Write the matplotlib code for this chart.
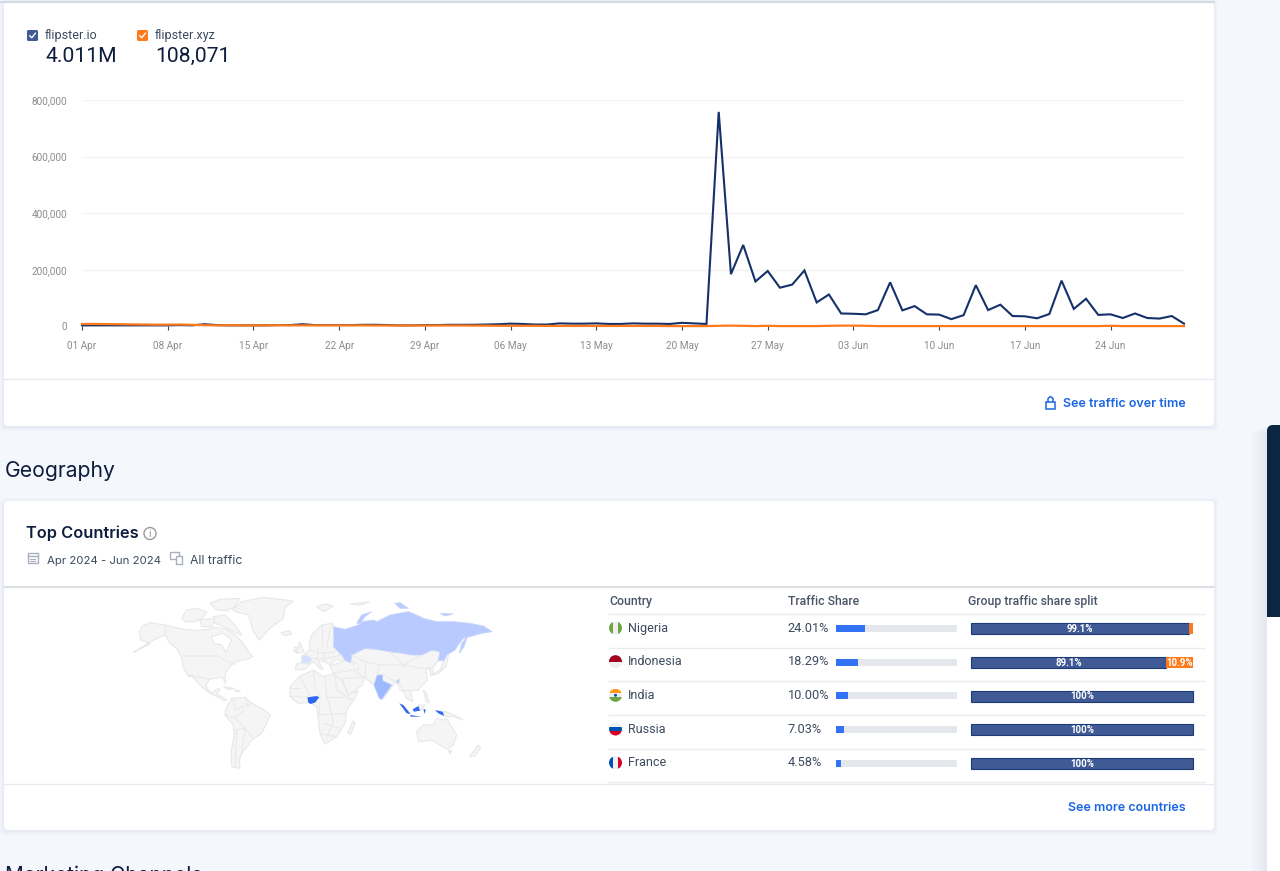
import pandas as pd
import matplotlib
matplotlib.use("Agg")
import matplotlib.pyplot as plt
from matplotlib.patches import Circle, FancyBboxPatch, Polygon, Rectangle

plt.rcParams['font.family'] = ['Roboto', 'DejaVu Sans']

# Traffic over time, daily visits from 01 Apr to 30 Jun
flipster_io = [4000, 4000, 4000, 4000, 4000, 4000, 4000, 4000, 5000, 4000,
               8000, 5000, 4000, 4000, 4000, 4000, 5000, 5000, 8000, 5000,
               5000, 5000, 5000, 6000, 6000, 5000, 4000, 4000, 5000, 5000,
               6000, 6000, 6000, 7000, 8000, 10000, 9000, 7000, 7000, 11000,
               10000, 10000, 11000, 9000, 9000, 11000, 10000, 10000, 9000, 13000,
               11000, 9000, 758000, 185000, 288000, 159000, 196000, 137000, 148000, 198000,
               85000, 113000, 46000, 45000, 43000, 58000, 156000, 57000, 72000, 43000,
               42000, 26000, 40000, 146000, 58000, 77000, 37000, 36000, 29000, 44000,
               162000, 62000, 98000, 41000, 43000, 30000, 46000, 30000, 28000, 37000,
               10000]
flipster_xyz = [9000, 9000, 8500, 8000, 7500, 7000, 6500, 6500, 7000, 6000,
                4500, 4000, 4500, 4000, 4000, 4000, 4500, 4000, 4000, 4000,
                4000, 4000, 4000, 4000, 3500, 3500, 3500, 3500, 3500, 3500,
                3500, 3500, 3000, 3000, 2500, 2500, 2500, 2500, 2000, 2000,
                2000, 2000, 2000, 2000, 2000, 2000, 2000, 2000, 1500, 1500,
                1500, 1500, 2500, 3000, 2500, 1500, 2500, 1500, 1500, 1500,
                1500, 2500, 3000, 3000, 2500, 1500, 1500, 1500, 1500, 1500,
                1500, 1500, 1500, 1500, 1500, 1500, 1500, 1500, 1500, 1500,
                1500, 1500, 1500, 1500, 2500, 1500, 1500, 1500, 1500, 1500,
                1500]
y_ticks = [0, 200000, 400000, 600000, 800000]

countries = ["Nigeria", "Indonesia", "India", "Russia", "France"]
traffic_share = [24.01, 18.29, 10.00, 7.03, 4.58]
split_io = [99.1, 89.1, 100, 100, 100]
split_xyz = [0.9, 10.9, 0, 0, 0]

# Map outlines, in crop coordinates
# Americas and Greenland
land_west = [
    [(40,187),(70,172),(92,160),(62,150),(58,125),(68,108),(90,98),(135,105),(190,118),(230,122),(262,118),(285,112),(320,118),(345,135),(370,160),(385,185),(398,200),(380,208),(355,212),(335,225),(318,245),(315,262),(318,282),(308,262),(285,265),(268,268),(258,285),(262,298),(275,308),(290,298),(300,296),(290,312),(305,320),(320,330),(312,332),(295,322),(270,310),(240,285),(215,258),(205,260),(190,232),(185,205),(170,175),(150,160),(135,135),(100,150)],
    [(185,85),(200,60),(230,55),(260,65),(250,82),(225,95),(195,95)],
    [(270,40),(300,28),(360,25),(345,50),(320,62),(290,60)],
    [(280,80),(315,75),(345,105),(365,135),(340,125),(310,110),(285,100)],
    [(240,90),(285,85),(275,110),(245,110)],
    [(338,58),(365,35),(430,22),(520,33),(495,52),(490,85),(450,115),(418,150),(400,125),(392,95),(385,75),(345,65)],
    [(482,128),(510,122),(515,132),(495,137)],
    [(310,290),(345,296),(325,298)],
    [(345,300),(362,302),(350,306)],
    [(318,355),(335,325),(375,322),(395,340),(425,355),(452,375),(440,400),(425,430),(395,450),(385,465),(365,490),(358,510),(360,535),(335,530),(333,490),(343,430),(340,405),(315,375)],
]
bays_west = [
    [(275,140),(310,130),(335,150),(325,170),(318,188),(305,165),(280,160)],
]
borders_west = [
    [(135,105),(138,135)], [(185,198),(295,198),(320,215),(345,222)], [(205,255),(240,262),(268,268)],
    [(340,325),(345,360),(380,345),(395,340)], [(375,322),(385,350)], [(345,385),(372,360)], [(345,385),(375,415),(395,440)],
    [(345,420),(375,415)], [(350,420),(345,530)], [(375,415),(365,490)], [(315,375),(345,385)],
]
# Africa, Eurasia and Oceania (same scale, shifted right)
east_offset = 510
land_east = [
    [(0,290),(30,258),(70,240),(100,260),(135,250),(160,258),(165,275),(180,310),(205,302),(195,325),(170,360),(165,400),(140,440),(105,462),(90,430),(85,385),(80,350),(60,338),(25,340),(0,320)],
    [(172,430),(190,392),(195,400),(182,432)],
    [(15,240),(20,222),(35,218),(35,198),(60,180),(58,160),(65,135),(95,105),(125,100),(135,115),(132,170),(155,195),(165,210),(135,210),(120,225),(105,215),(85,212),(100,240),(90,235),(70,215),(60,222),(45,238)],
    [(28,155),(35,170),(42,185),(18,190),(25,175)],
    [(12,172),(22,172),(18,185),(12,185)],
    [(120,228),(165,212),(185,195),(225,175),(260,178),(300,185),(340,190),(395,195),(425,180),(450,185),(445,212),(428,232),(408,240),(412,270),(385,300),(362,302),(368,335),(350,325),(335,295),(320,270),(300,298),(275,330),(252,285),(222,262),(218,285),(175,315),(155,270),(130,250)],
    [(420,258),(450,240),(470,190),(478,182),(468,230),(445,250)],
    [(418,240),(430,238),(425,258)],
    [(400,300),(410,310),(418,340),(408,335)],
    [(385,345),(405,345),(392,362)],
    [(460,362),(498,378),(520,390),(490,380),(465,380)],
    [(380,425),(400,405),(430,405),(440,385),(460,390),(470,385),(500,435),(490,465),(470,478),(445,462),(425,450),(385,455)],
    [(475,480),(485,482),(480,492)],
    [(538,500),(565,465),(572,472),(555,498)],
    [(80,50),(105,42),(130,48),(100,65)],
    [(180,42),(238,36),(210,46)],
]
bays_east = [
    [(188,215),(200,222),(205,240),(195,235)],
]
borders_east = [
    [(30,258),(50,300),(60,320)], [(70,242),(75,290),(90,320)], [(105,258),(110,320),(120,350)], [(135,250),(140,300)],
    [(140,300),(185,330)], [(90,340),(85,390)], [(85,375),(165,370)], [(120,350),(130,400),(110,440)], [(100,400),(150,415)],
    [(90,430),(135,440)], [(0,318),(50,322)], [(110,320),(165,320)], [(0,295),(30,295)],
    [(60,180),(95,190),(135,185)], [(95,105),(95,170)], [(125,100),(110,170)], [(60,205),(110,205),(155,195)],
    [(85,175),(80,212)], [(100,190),(105,215)], [(35,218),(60,222)],
    [(185,195),(225,215),(270,225),(340,225),(395,195)], [(270,225),(262,255)], [(225,215),(225,262)], [(190,240),(222,262)],
    [(340,225),(395,235),(428,232)], [(278,255),(318,275),(330,300)], [(330,300),(385,300)], [(160,265),(220,262)],
    [(130,250),(190,240)], [(300,185),(340,225)], [(155,265),(175,315)],
]
russia = [
    [(130,110),(165,118),(205,105),(215,95),(250,90),(260,95),(300,75),(355,65),(380,75),(400,85),(440,95),(490,95),(540,100),(580,108),(607,125),(575,130),(540,140),(520,145),(505,165),(495,180),(470,195),(462,212),(445,212),(450,185),(425,180),(395,195),(365,195),(340,190),(300,185),(260,178),(225,175),(185,195),(182,218),(165,210),(155,195),(130,170),(132,140)],
    [(200,100),(215,75),(245,65),(225,80),(210,100)],
    [(315,40),(330,38),(355,55),(330,55)],
    [(450,70),(490,72),(465,78)],
    [(508,190),(515,160),(532,140),(522,170)],
]
france = [(35,200),(50,195),(65,205),(62,218),(38,220)]
india = [[(262,255),(278,255),(278,272),(305,285),(275,328),(268,325),(252,285)], [(318,278),(328,268),(325,278)]]
nigeria = [(52,322),(80,318),(88,322),(75,338),(62,342),(55,338)]
indonesia = [
    [(328,340),(340,345),(362,372),(350,370)],
    [(368,358),(385,348),(390,362),(372,365)],
    [(360,375),(395,380),(362,380)],
    [(400,358),(407,358),(404,372)],
    [(435,360),(458,365),(462,378),(445,370)],
]

fig = plt.figure(figsize=(12.8, 8.71), dpi=100, facecolor="#f4f7fc")


def px_axes(x0, y0, x1, y1):
    return fig.add_axes([x0 / 1280, 1 - y1 / 871, (x1 - x0) / 1280, (y1 - y0) / 871])


# page layer in pixels
page = px_axes(0, 0, 1280, 871)
page.set_xlim(0, 1280)
page.set_ylim(871, 0)
page.axis("off")

for top, bottom in [(2, 426), (501, 830)]:
    for grow in [4, 3, 2, 1]:
        page.add_patch(FancyBboxPatch((4 - grow, top - grow + 1), 1210 + 2 * grow, bottom - top + 2 * grow,
                                      boxstyle="round,pad=0,rounding_size=5", fc="#8a97b0", ec="none", alpha=0.025))
    page.add_patch(FancyBboxPatch((4, top), 1210, bottom - top, boxstyle="round,pad=0,rounding_size=4",
                                  fc="white", ec="none"))
page.plot([0, 1214], [2, 2], color="#d3dae3", lw=1.5)
page.plot([4, 1214], [379.5, 379.5], color="#e9ebef", lw=1)
page.plot([4, 1214], [586.5, 586.5], color="#dcdfe4", lw=1.5)
page.plot([4, 1214], [783.5, 783.5], color="#e9ebef", lw=1)

# right side widget, soft shadow fading out above and to the left
for step in range(1, 9):
    page.add_patch(Rectangle((1267 - step * 2, 425 + step), step * 2, 446 - step, fc="#7c88a0", ec="none", alpha=0.012))
page.add_patch(FancyBboxPatch((1267, 425), 30, 230, boxstyle="round,pad=0,rounding_size=6", fc="#0b2640", ec="none"))
page.add_patch(Rectangle((1267, 616.5), 13, 255, fc="white", ec="none"))

# legend
for x, color, name, total in [(27, "#3f5a94", "flipster.io", "4.011M"), (137, "#ff7a1a", "flipster.xyz", "108,071")]:
    page.add_patch(FancyBboxPatch((x, 30), 11, 11, boxstyle="round,pad=0,rounding_size=1.5", fc=color, ec="none"))
    page.plot([x + 2.8, x + 4.8, x + 8.4], [35.8, 37.8, 33.2], color="white", lw=1)
    page.text(x + 18, 36, name, fontsize=9, color="#3c4a5f", va="center")
    page.text(x + 18, 56, total, fontsize=15.2, color="#0e1c3d", va="center")

page.text(1186, 404, "See traffic over time", fontsize=9, color="#1b66e3", family="Inter", weight="semibold", ha="right", va="center")
page.add_patch(Rectangle((1046, 401.5), 9, 7.5, fc="none", ec="#1b66e3", lw=1.1))
page.plot([1048, 1048, 1050.5, 1053, 1053], [401.5, 398.5, 396.5, 398.5, 401.5], color="#1b66e3", lw=1.1)

page.text(5, 471, "Geography", fontsize=15.2, color="#0e1c3d", family="Inter", va="center")
page.text(26, 533.5, "Top Countries", fontsize=11.8, color="#0e1c3d", family="Inter", weight="semibold", va="center")
page.add_patch(Circle((150, 533.5), 6, fc="none", ec="#9a9a9a", lw=1))
page.text(150, 533.7, "i", fontsize=7, color="#8a8a8a", ha="center", va="center")
page.text(47, 561, "Apr 2024 - Jun 2024", fontsize=8.2, color="#3c4a5f", family="Inter", va="center")
page.text(190, 561, "All traffic", fontsize=8.8, color="#3c4a5f", family="Inter", va="center")
page.add_patch(Rectangle((27.5, 553), 10, 10, fc="none", ec="#aab0bf", lw=1))
page.plot([27.5, 37.5], [556, 556], color="#aab0bf", lw=1)
page.plot([30, 35], [559, 559], color="#aab0bf", lw=0.8)
page.plot([30, 35], [561, 561], color="#aab0bf", lw=0.8)
page.add_patch(Rectangle((170, 552), 9, 7, fc="none", ec="#aab0bf", lw=1))
page.add_patch(Rectangle((176, 556), 6, 8, fc="white", ec="#aab0bf", lw=1))

page.text(1186, 808, "See more countries", fontsize=9, color="#1b66e3", family="Inter", weight="semibold", ha="right", va="center")
page.text(5, 876, "Marketing Channels", fontsize=15, color="#0e1c3d", family="Inter", va="center")

# table
for x, label in [(609.5, "Country"), (788, "Traffic Share"), (968.5, "Group traffic share split")]:
    page.text(x, 601.5, label, fontsize=8.8, color="#4a5568", weight="medium", va="center")
for y in [613.5, 647.5, 681, 714.5, 748.5, 781.5]:
    page.plot([609, 1204], [y, y], color="#e9ebef", lw=1)

flags = {
    "Nigeria": ("v", ["#6da544", "#f0f0f0", "#6da544"]),
    "Indonesia": ("h", ["#a2001d", "#f0f0f0"]),
    "India": ("h", ["#ff9811", "#f0f0f0", "#6da544"]),
    "Russia": ("h", ["#f0f0f0", "#0052b4", "#d80027"]),
    "France": ("v", ["#0052b4", "#f0f0f0", "#d80027"]),
}
row_y = [628, 661.7, 695.3, 729, 762.7]
bar_left, track_w = 835.5, 121
split_left, split_w = 971, 222

for name, share, s_io, s_xyz, y in zip(countries, traffic_share, split_io, split_xyz, row_y):
    clip = Circle((615.5, y), 6.5, transform=page.transData)
    kind, cols = flags[name]
    n = len(cols)
    for j, c in enumerate(cols):
        if kind == "h":
            r = Rectangle((609, y - 6.5 + 13 * j / n), 13, 13 / n, fc=c, ec="none")
        else:
            r = Rectangle((609 + 13 * j / n, y - 6.5), 13 / n, 13, fc=c, ec="none")
        page.add_patch(r)
        r.set_clip_path(clip)
    if name == "India":
        page.add_patch(Circle((615.5, y), 1.5, fc="#0052b4", ec="none"))
    page.text(628, y + 0.2, name, fontsize=9, color="#3c4a5f", va="center")
    page.text(787.5, y + 0.2, f"{share:.2f}%", fontsize=9.2, color="#3c4a5f", va="center")
    page.add_patch(Rectangle((bar_left, y - 3), track_w, 7, fc="#e4e7eb", ec="none"))
    page.add_patch(Rectangle((bar_left, y - 3), track_w * share / 100, 7, fc="#3371f5", ec="none"))
    w_xyz = split_w * s_xyz / 100 + 2.5 if s_xyz > 0 else 0
    w_io = split_w - w_xyz
    page.add_patch(Rectangle((split_left, y - 4.8), w_io, 11, fc="#3f5a94", ec="#1b3a78", lw=0.8))
    if s_xyz > 0:
        page.add_patch(Rectangle((split_left + w_io, y - 4.8), w_xyz, 11, fc="#ff7a1a", ec="none"))
    label = "100%" if s_io == 100 else f"{s_io}%"
    page.text(split_left + w_io / 2, y + 0.8, label, fontsize=7, color="white", weight="bold", ha="center", va="center")
    if s_xyz > 5:
        page.text(split_left + w_io + w_xyz / 2, y + 0.8, f"{s_xyz}%", fontsize=7, color="white", weight="bold", ha="center", va="center")

# traffic chart
chart = px_axes(82, 100, 1184, 326.5)
chart.patch.set_alpha(0)
dates = pd.date_range("2024-04-01", "2024-06-30", freq="D")
chart.plot(dates, flipster_io, color="#16306b", lw=1.5, solid_joinstyle="miter", clip_on=False, zorder=3)
chart.plot(dates, flipster_xyz, color="#ff7a1a", lw=1.6, clip_on=False, zorder=4)
chart.set_xlim(dates[0], dates[-1])
chart.set_ylim(0, 800000)
chart.set_yticks(y_ticks)
chart.set_yticklabels([f"{v:,}" for v in y_ticks])
chart.set_xticks(dates[::7])
chart.set_xticklabels([d.strftime("%d %b") for d in dates[::7]])
chart.grid(axis="y", color="#f4f4f4", lw=1)
chart.set_axisbelow(True)
for side in chart.spines:
    chart.spines[side].set_visible(False)
chart.tick_params(axis="y", length=0, labelsize=7.2, labelcolor="#8c8c8c", pad=10.5)
chart.tick_params(axis="x", length=3, width=0.8, color="#444444", labelsize=7.2, labelcolor="#8c8c8c", pad=7.7)

# world map
world = px_axes(120, 590, 510, 780)
world.set_xlim(0, 1170)
world.set_ylim(570, 0)
world.axis("off")
world.patch.set_alpha(0)


def shifted(shape, dx):
    return [(x + dx, y) for x, y in shape]


for group, dx in [(land_west, 0), (land_east, east_offset)]:
    for shape in group:
        world.add_patch(Polygon(shifted(shape, dx), fc="#f5f5f5", ec="#e8e8e8", lw=0.8))
for group, dx in [(bays_west, 0), (bays_east, east_offset)]:
    for shape in group:
        world.add_patch(Polygon(shifted(shape, dx), fc="white", ec="#e8e8e8", lw=0.8))
for group, dx in [(borders_west, 0), (borders_east, east_offset)]:
    for line in group:
        xs, ys = zip(*shifted(line, dx))
        world.plot(xs, ys, color="#e8e8e8", lw=0.7)
for shape in russia:
    world.add_patch(Polygon(shifted(shape, east_offset), fc="#b8caff", ec="#c9d6fb", lw=0.6))
world.add_patch(Polygon(shifted(france, east_offset), fc="#d3e0ff", ec="#e3eaff", lw=0.5))
for shape in india:
    world.add_patch(Polygon(shifted(shape, east_offset), fc="#9dbaff", ec="#b8caff", lw=0.5))
world.add_patch(Polygon(shifted(nigeria, east_offset), fc="#2f68ee", ec="none"))
for shape in indonesia:
    world.add_patch(Polygon(shifted(shape, east_offset), fc="#2f68ee", ec="none"))

fig.savefig("out.png", dpi=100, facecolor=fig.get_facecolor())
